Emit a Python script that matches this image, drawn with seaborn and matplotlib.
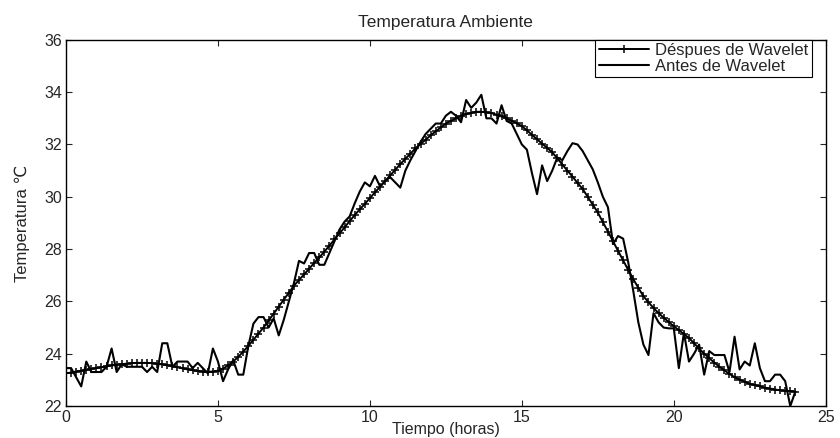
import numpy as np
import pandas as pd
import matplotlib
matplotlib.use('Agg')
import matplotlib.pyplot as plt
import seaborn as sns

# 10-minute samples over 24 hours
hours = np.arange(145) * 10 / 60

antes = [23.45, 23.45, 23.1, 22.75, 23.7, 23.3, 23.3, 23.3, 23.5, 24.2,
         23.3, 23.6, 23.5, 23.5, 23.5, 23.5, 23.3, 23.5, 23.3, 24.4,
         24.4, 23.5, 23.7, 23.7, 23.7, 23.45, 23.65, 23.45, 23.25, 24.2,
         23.7, 22.95, 23.4, 23.75, 23.2, 23.2, 24.3, 25.15, 25.4, 25.4,
         25.0, 25.35, 24.7, 25.3, 26.0, 26.7, 27.55, 27.45, 27.85, 27.85,
         27.4, 27.4, 27.85, 28.3, 28.75, 29.05, 29.25, 29.75, 30.2, 30.55,
         30.4, 30.8, 30.4, 30.6, 30.75, 30.55, 30.35, 31.0, 31.4, 31.75,
         32.1, 32.4, 32.6, 32.8, 32.8, 33.1, 33.25, 33.1, 32.85, 33.7,
         33.4, 33.6, 33.9, 33.0, 33.0, 32.8, 33.5, 32.9, 32.8, 32.4,
         32.0, 31.8, 30.9, 30.1, 31.2, 30.6, 31.0, 31.5, 31.4, 31.75,
         32.05, 32.0, 31.75, 31.4, 31.05, 30.55, 30.0, 29.6, 28.2, 28.5,
         28.4, 27.5, 26.4, 25.2, 24.35, 23.95, 25.55, 25.2, 25.0, 24.97,
         24.97, 23.45, 24.8, 23.7, 24.0, 24.35, 23.2, 24.1, 23.95, 23.95,
         23.95, 23.3, 24.65, 23.4, 23.7, 23.55, 24.4, 23.45, 22.95, 22.95,
         23.2, 23.2, 22.95, 22.0, 22.55]

despues = [23.25, 23.28, 23.32, 23.35, 23.38, 23.42, 23.45, 23.48, 23.52, 23.55,
           23.58, 23.60, 23.62, 23.64, 23.65, 23.65, 23.65, 23.64, 23.62, 23.59,
           23.56, 23.52, 23.48, 23.44, 23.40, 23.37, 23.34, 23.32, 23.31, 23.32,
           23.35, 23.43, 23.55, 23.70, 23.88, 24.08, 24.30, 24.53, 24.77, 25.00,
           25.27, 25.53, 25.80, 26.07, 26.33, 26.60, 26.82, 27.03, 27.25, 27.47,
           27.68, 27.90, 28.13, 28.37, 28.60, 28.83, 29.07, 29.30, 29.52, 29.73,
           29.95, 30.17, 30.38, 30.60, 30.82, 31.03, 31.25, 31.45, 31.65, 31.85,
           32.02, 32.18, 32.35, 32.50, 32.65, 32.80, 32.90, 33.00, 33.10, 33.16,
           33.21, 33.25, 33.25, 33.23, 33.20, 33.14, 33.07, 33.00, 32.91, 32.81,
           32.70, 32.54, 32.37, 32.20, 32.03, 31.87, 31.70, 31.47, 31.23, 31.00,
           30.77, 30.53, 30.30, 30.00, 29.70, 29.40, 29.03, 28.67, 28.30, 27.93,
           27.57, 27.20, 26.85, 26.52, 26.20, 25.97, 25.75, 25.55, 25.38, 25.21,
           25.05, 24.90, 24.75, 24.60, 24.40, 24.20, 24.00, 23.83, 23.66, 23.50,
           23.36, 23.23, 23.10, 23.01, 22.93, 22.85, 22.80, 22.75, 22.70, 22.67,
           22.63, 22.60, 22.58, 22.57, 22.55]

x_ticks = [0, 5, 10, 15, 20, 25]
y_ticks = [22, 24, 26, 28, 30, 32, 34, 36]

df = pd.DataFrame({'Tiempo': hours, 'Antes': antes, 'Despues': despues})

sns.set_style('ticks')
plt.rcParams['font.family'] = ['Liberation Sans', 'DejaVu Sans']
plt.rcParams['xtick.direction'] = 'in'
plt.rcParams['ytick.direction'] = 'in'

fig = plt.figure(figsize=(8.4, 4.38), dpi=100)
ax = fig.add_axes([0.0786, 0.073, 0.9044, 0.836])

sns.lineplot(data=df, x='Tiempo', y='Despues', ax=ax, color='black', linewidth=1.4,
             marker='+', markersize=6, markeredgewidth=1.1, markeredgecolor='black',
             label='Déspues de Wavelet')
sns.lineplot(data=df, x='Tiempo', y='Antes', ax=ax, color='black', linewidth=1.5,
             label='Antes de Wavelet')

ax.set_xlim(0, 25)
ax.set_ylim(22, 36)
ax.set_xticks(x_ticks)
ax.set_yticks(y_ticks)
ax.tick_params(top=True, right=True, length=4, width=0.8, labelsize=11.5, pad=3)
for s in ax.spines.values():
    s.set_linewidth(1.0)
    s.set_color('black')

ax.set_title('Temperatura Ambiente', fontsize=12.5, pad=9)
ax.set_xlabel('Tiempo (horas)', fontsize=11.5, labelpad=-2)
ax.set_ylabel('Temperatura ℃', fontsize=12, labelpad=10)

leg = ax.legend(loc='upper right', bbox_to_anchor=(0.982, 1.0), fontsize=12,
                frameon=True, fancybox=False, framealpha=1, edgecolor='black',
                borderpad=0.2, labelspacing=0.05, handlelength=3.0,
                handletextpad=0.4, borderaxespad=0.0)
leg.get_frame().set_linewidth(0.8)

fig.savefig('out.png', dpi=100)
